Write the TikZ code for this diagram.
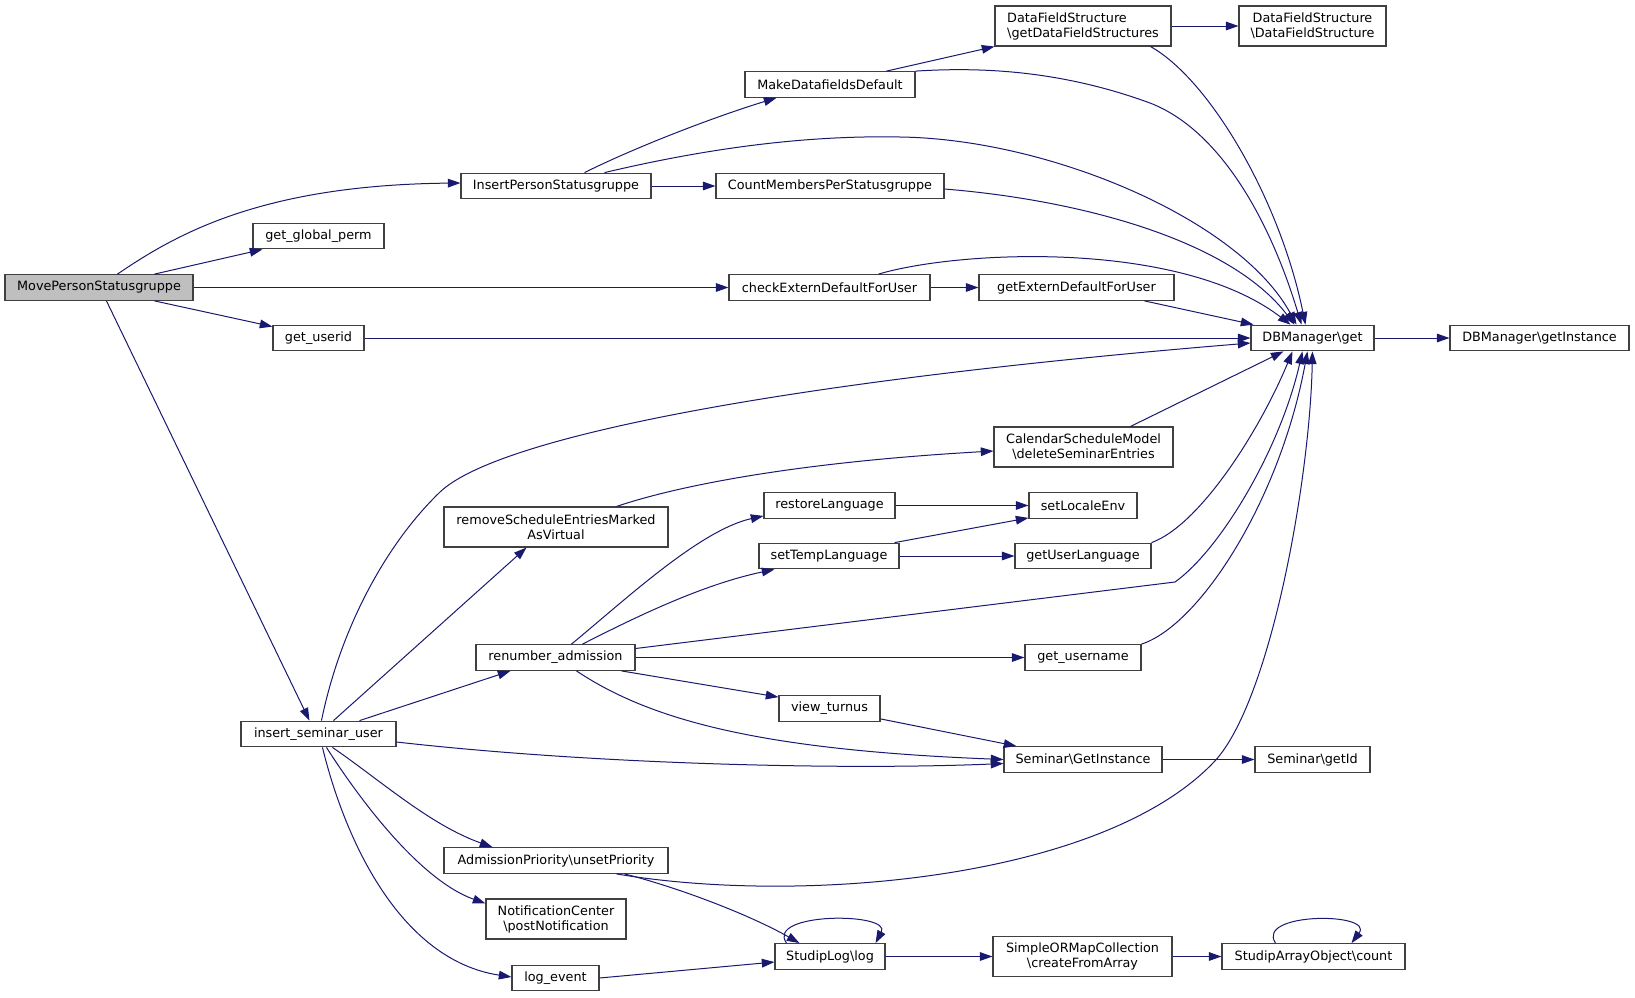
\documentclass[tikz,border=0pt]{standalone}
\usepackage{fontspec}
\setmainfont{DejaVu Sans}
\usetikzlibrary{arrows.meta,calc}
\definecolor{edgec}{HTML}{191970}
\definecolor{boxc}{HTML}{404040}
\definecolor{rootc}{HTML}{BFBFBF}
\begin{document}
\begin{tikzpicture}[x=0.75pt,y=-0.75pt,
  box/.style={draw=boxc, line width=0.8pt, fill=white, inner sep=0pt, align=center,
    minimum height=19.3pt, font=\fontsize{9.6}{11.25}\selectfont, text=black},
  tall/.style={minimum height=30pt},
  wd/.style={minimum width=#1*0.75pt},
  conn/.style={draw=edgec, line width=0.75pt, -{Triangle[length=9.5pt,width=6.5pt]}}]
\useasboundingbox (0,0) rectangle (1635,997);
\fill[white] (0,0) rectangle (1635,997);
% nodes
\node[box, wd=188, fill=rootc] (move) at (99,287.5) {MovePersonStatusgruppe};
\node[box, wd=131] (ggp) at (318.5,236) {get\_global\_perm};
\node[box, wd=91] (guid) at (318.5,338) {get\_userid};
\node[box, wd=190] (ips) at (556,186) {InsertPersonStatusgruppe};
\node[box, wd=170] (mdd) at (830,84.5) {MakeDatafieldsDefault};
\node[box, wd=176, tall, align=left] (gdfs) at (1083,26) {DataFieldStructure\\\textbackslash getDataFieldStructures};
\node[box, wd=147, tall] (dfs) at (1312.5,26) {DataFieldStructure\\\textbackslash DataFieldStructure};
\node[box, wd=228] (cmps) at (830,186) {CountMembersPerStatusgruppe};
\node[box, wd=201] (cedu) at (829.5,287.5) {checkExternDefaultForUser};
\node[box, wd=195] (gedu) at (1076.5,287.5) {getExternDefaultForUser};
\node[box, wd=123] (dbget) at (1312.5,338) {DBManager\textbackslash get};
\node[box, wd=179] (dbinst) at (1539.5,338) {DBManager\textbackslash getInstance};
\node[box, wd=155] (isu) at (318.5,734) {insert\_seminar\_user};
\node[box, wd=224, tall] (rse) at (556,527) {removeScheduleEntriesMarked\\AsVirtual};
\node[box, wd=159] (ra) at (555.5,657.5) {renumber\_admission};
\node[box, wd=131] (rl) at (829.5,505.5) {restoreLanguage};
\node[box, wd=140] (stl) at (829,556) {setTempLanguage};
\node[box, wd=179, tall] (csm) at (1083.5,447) {CalendarScheduleModel\\\textbackslash deleteSeminarEntries};
\node[box, wd=108] (sle) at (1083,505.5) {setLocaleEnv};
\node[box, wd=136] (gul) at (1083,556) {getUserLanguage};
\node[box, wd=116] (gun) at (1083,657.5) {get\_username};
\node[box, wd=101] (vt) at (829.5,708.5) {view\_turnus};
\node[box, wd=158] (sgi) at (1083,759.5) {Seminar\textbackslash GetInstance};
\node[box, wd=115] (sid) at (1312.5,759.5) {Seminar\textbackslash getId};
\node[box, wd=110] (slog) at (830,956.5) {StudipLog\textbackslash log};
\node[box, wd=179, tall] (somc) at (1082.5,956.5) {SimpleORMapCollection\\\textbackslash createFromArray};
\node[box, wd=183] (sac) at (1313.5,956.5) {StudipArrayObject\textbackslash count};
\node[box, wd=224] (apu) at (556,860.5) {AdmissionPriority\textbackslash unsetPriority};
\node[box, wd=140, tall] (ncp) at (556,919) {NotificationCenter\\\textbackslash postNotification};
\node[box, wd=87] (le) at (555.5,978) {log\_event};
% edges
\draw[conn] ($(move.north west)+(113,0)$) .. controls (175,235) and (260,185) .. ($(ips.west)+(0,-3)$);
\draw[conn] ($(move.north west)+(150,0)$) -- ($(ggp.south west)+(10,0)$);
\draw[conn] (move.east) -- (cedu.west);
\draw[conn] ($(move.south west)+(150,0)$) -- ($(guid.north west)+(0,2)$);
\draw[conn] ($(move.south west)+(102,0)$) -- ($(isu.north west)+(69,0)$);
\draw[conn] ($(ips.north west)+(124,0)$) .. controls (640,145) and (720,115) .. ($(mdd.south west)+(32,0)$);
\draw[conn] ($(ips.north west)+(144,0)$) .. controls (700,150) and (800,135) .. (900,137) .. controls (1050,139) and (1240,220) .. ($(dbget.north west)+(46,0)$);
\draw[conn] (ips.east) -- (cmps.west);
\draw[conn] ($(mdd.north west)+(142,0)$) -- (gdfs.south west);
\draw[conn] (mdd.north east) .. controls (980,67) and (1060,70) .. (1150,103) .. controls (1220,130) and (1270,220) .. ($(dbget.north west)+(51,0)$);
\draw[conn] (gdfs.east) -- (dfs.west);
\draw[conn] ($(gdfs.south east)+(-21,0)$) .. controls (1210,80) and (1280,200) .. ($(dbget.north west)+(55,0)$);
\draw[conn] ($(cmps.east)+(0,3)$) .. controls (1080,200) and (1230,240) .. ($(dbget.north west)+(44,0)$);
\draw[conn] ($(cedu.north west)+(150,0)$) .. controls (960,250) and (1180,240) .. ($(dbget.north west)+(40,0)$);
\draw[conn] (cedu.east) -- (gedu.west);
\draw[conn] ($(gedu.south west)+(166,0)$) -- ($(dbget.north west)+(3,0)$);
\draw[conn] (guid.east) -- (dbget.west);
\draw[conn] ($(isu.north west)+(81,0)$) .. controls (340,630) and (385,545) .. (440,492) .. controls (500,435) and (800,380) .. ($(dbget.west)+(0,5)$);
\draw[conn] ($(isu.north west)+(93,0)$) -- ($(rse.south west)+(83,0)$);
\draw[conn] ($(isu.north west)+(119,0)$) -- ($(ra.south west)+(35,0)$);
\draw[conn] ($(isu.east)+(0,8)$) .. controls (600,765) and (850,770) .. ($(sgi.west)+(0,4)$);
\draw[conn] ($(isu.south west)+(92,0)$) .. controls (380,780) and (430,825) .. ($(apu.north west)+(49,0)$);
\draw[conn] ($(isu.south west)+(86,0)$) .. controls (360,800) and (420,880) .. ($(ncp.north west)+(0,5)$);
\draw[conn] ($(isu.south west)+(82,0)$) .. controls (345,840) and (400,960) .. ($(le.west)+(0,-1)$);
\draw[conn] ($(rse.north west)+(173,0)$) .. controls (680,485) and (800,462) .. ($(csm.west)+(0,4)$);
\draw[conn] ($(csm.north west)+(137,0)$) -- ($(dbget.south west)+(33,0)$);
\draw[conn] ($(ra.north west)+(96,0)$) .. controls (625,600) and (700,530) .. ($(rl.south west)+(0,-3)$);
\draw[conn] ($(ra.north west)+(107,0)$) .. controls (630,620) and (700,585) .. ($(stl.south west)+(16,0)$);
\draw[conn] ($(ra.east)+(0,-9)$) -- (1175,582) .. controls (1220,550) and (1280,450) .. ($(dbget.south west)+(52,0)$);
\draw[conn] (ra.east) -- (gun.west);
\draw[conn] ($(ra.south west)+(146,0)$) -- ($(vt.north west)+(0,2)$);
\draw[conn] ($(ra.south west)+(101,0)$) .. controls (650,720) and (760,750) .. (sgi.west);
\draw[conn] (rl.east) -- (sle.west);
\draw[conn] ($(stl.north east)+(-5,0)$) -- ($(sle.south west)+(0,-1)$);
\draw[conn] (stl.east) -- (gul.west);
\draw[conn] (gul.north east) .. controls (1200,525) and (1260,430) .. ($(dbget.south west)+(42,0)$);
\draw[conn] (gun.north east) .. controls (1200,625) and (1280,500) .. ($(dbget.south west)+(57,0)$);
\draw[conn] ($(vt.south east)+(0,-3)$) -- ($(sgi.north west)+(13,0)$);
\draw[conn] (sgi.east) -- (sid.west);
\draw[conn] ($(apu.south west)+(173,0)$) .. controls (800,905) and (1100,880) .. (1213,763) .. controls (1270,705) and (1310,480) .. ($(dbget.south west)+(62,0)$);
\draw[conn] ($(apu.south west)+(181,0)$) .. controls (680,888) and (750,915) .. ($(slog.north west)+(25,0)$);
\draw[conn] (le.east) -- ($(slog.west)+(0,5.5)$);
\draw[conn] ($(slog.north west)+(12,0)$) .. controls (765,912) and (892,912) .. ($(slog.north east)+(-10,0)$);
\draw[conn] (slog.east) -- (somc.west);
\draw[conn] (somc.east) -- (sac.west);
\draw[conn] ($(sac.north west)+(54,0)$) .. controls (1255,912) and (1375,912) .. ($(sac.north west)+(130,0)$);
\draw[conn] (dbget.east) -- (dbinst.west);
\end{tikzpicture}
\end{document}
